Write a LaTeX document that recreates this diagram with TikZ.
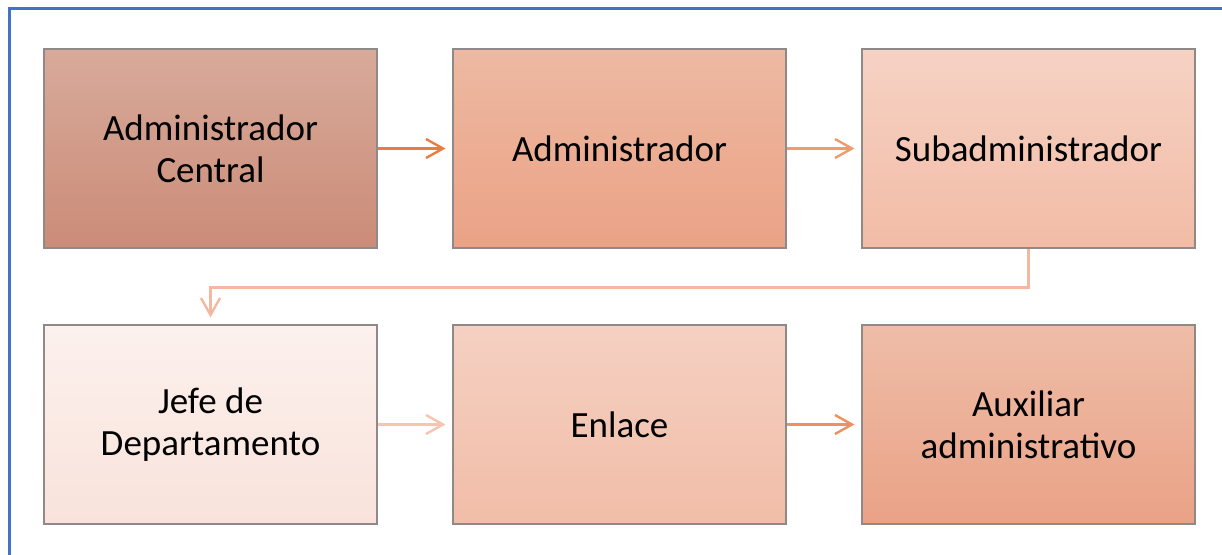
\documentclass[tikz,border=0pt]{standalone}
\usepackage{fontspec}
\setmainfont{Carlito}
\usetikzlibrary{arrows.meta,calc}

\definecolor{frameblue}{HTML}{4472C4}
\definecolor{boxline}{HTML}{8F8A88}

\tikzset{
	post/.style={shade, shading angle=0, draw=boxline, line width=1.1pt,
		minimum width=333pt, minimum height=199pt, align=center,
		font=\fontsize{37}{42}\selectfont},
	link/.style={line width=2.4pt, -{Straight Barb[length=17pt,width=19pt,line width=2.4pt]},
		shorten >=7pt}
}

\begin{document}
\begin{tikzpicture}[x=1pt, y=-1pt]
	\useasboundingbox (0, 0) rectangle (1222, 554);
	\draw [frameblue, line width=3pt] (9, 560) -- (9, 8) -- (1230, 8);

	\node [post, top color={rgb,255:red,216;green,170;blue,154}, bottom color={rgb,255:red,203;green,140;blue,120}] (central) at (210.5, 148.5) {Administrador\\Central};
	\node [post, top color={rgb,255:red,237;green,185;blue,162}, bottom color={rgb,255:red,235;green,162;blue,134}] (admin) at (619.5, 148.5) {Administrador};
	\node [post, top color={rgb,255:red,246;green,210;blue,196}, bottom color={rgb,255:red,242;green,188;blue,166}] (subadmin) at (1028.5, 148.5) {Subadministrador};

	\node [post, top color={rgb,255:red,252;green,241;blue,237}, bottom color={rgb,255:red,249;green,226;blue,219}] (jefe) at (210.5, 424.5) {Jefe de\\Departamento};
	\node [post, top color={rgb,255:red,245;green,208;blue,194}, bottom color={rgb,255:red,241;green,189;blue,168}] (enlace) at (619.5, 424.5) {Enlace};
	\node [post, top color={rgb,255:red,238;green,189;blue,168}, bottom color={rgb,255:red,234;green,162;blue,134}] (auxiliar) at (1028.5, 424.5) {Auxiliar\\administrativo};

	\draw [link, color={rgb,255:red,232;green,125;blue,62}] (central) -- (admin);
	\draw [link, color={rgb,255:red,239;green,155;blue,107}] (admin) -- (subadmin);
	\draw [link, color={rgb,255:red,244;green,184;blue,160}] (subadmin.south) -- ++(0, 39) -| (jefe.north);
	\draw [link, color={rgb,255:red,246;green,196;blue,176}] (jefe) -- (enlace);
	\draw [link, color={rgb,255:red,238;green,145;blue,94}] (enlace) -- (auxiliar);
\end{tikzpicture}
\end{document}
